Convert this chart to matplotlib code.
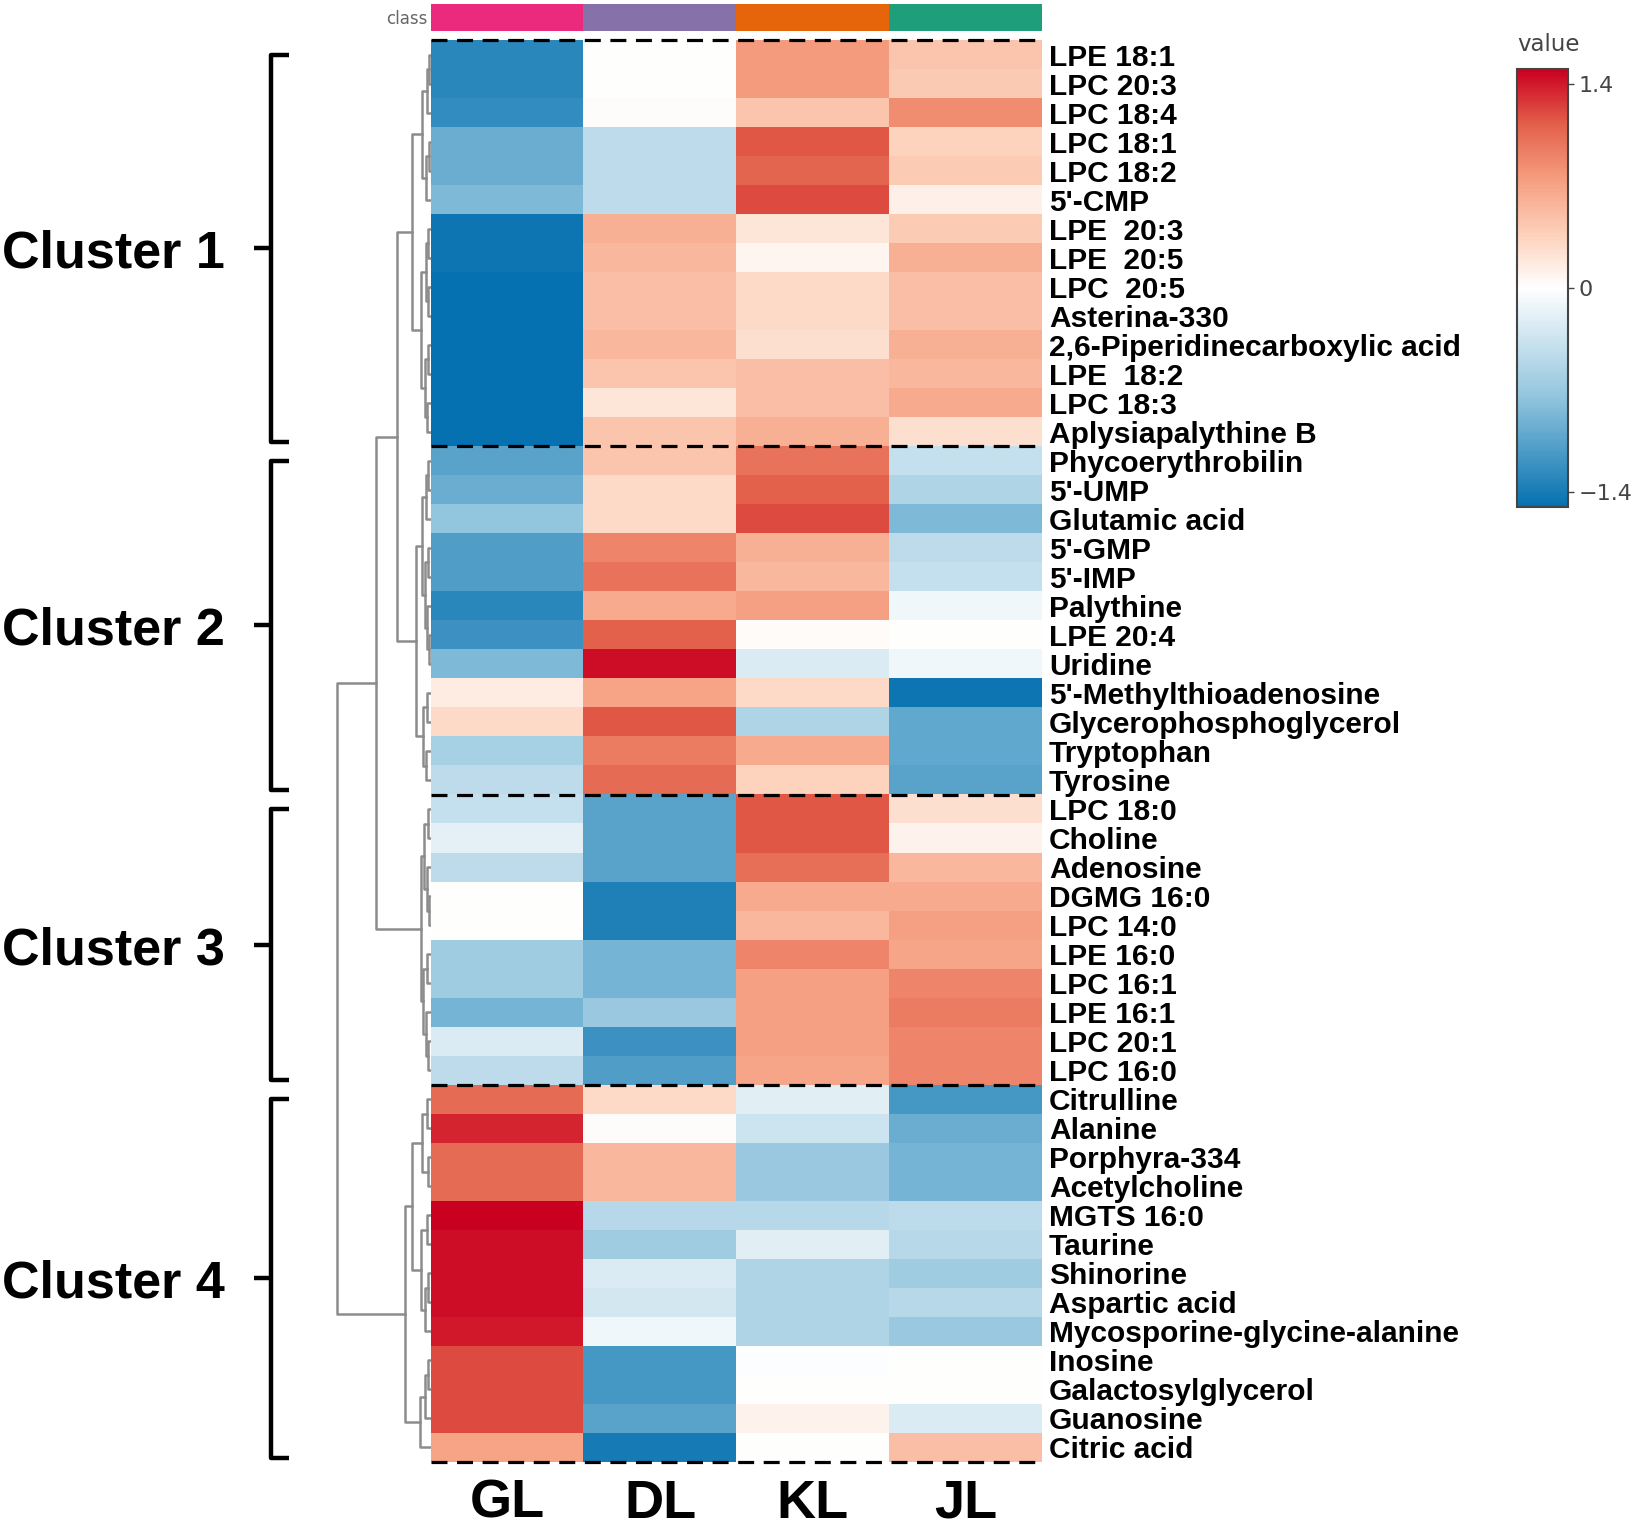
import numpy as np
import matplotlib
matplotlib.use('Agg')
import matplotlib.pyplot as plt
from matplotlib.colors import LinearSegmentedColormap, ListedColormap, Normalize
from matplotlib.cm import ScalarMappable

plt.rcParams['font.family'] = ['Liberation Sans', 'DejaVu Sans']

# samples across the top, with their class colours
samples = ['GL', 'DL', 'KL', 'JL']
class_colors = ['#EB2A7E', '#8672A8', '#E6650B', '#1E9E7A']

# rows in the clustered order
metabolites = [
    'LPE 18:1', 'LPC 20:3', 'LPC 18:4', 'LPC 18:1', 'LPC 18:2', "5'-CMP",
    'LPE  20:3', 'LPE  20:5', 'LPC  20:5', 'Asterina-330',
    '2,6-Piperidinecarboxylic acid', 'LPE  18:2', 'LPC 18:3', 'Aplysiapalythine B',
    'Phycoerythrobilin', "5'-UMP", 'Glutamic acid', "5'-GMP", "5'-IMP", 'Palythine',
    'LPE 20:4', 'Uridine', "5'-Methylthioadenosine", 'Glycerophosphoglycerol',
    'Tryptophan', 'Tyrosine',
    'LPC 18:0', 'Choline', 'Adenosine', 'DGMG 16:0', 'LPC 14:0', 'LPE 16:0',
    'LPC 16:1', 'LPE 16:1', 'LPC 20:1', 'LPC 16:0',
    'Citrulline', 'Alanine', 'Porphyra-334', 'Acetylcholine', 'MGTS 16:0', 'Taurine',
    'Shinorine', 'Aspartic acid', 'Mycosporine-glycine-alanine', 'Inosine',
    'Galactosylglycerol', 'Guanosine', 'Citric acid',
]

# scaled values per sample
gl = [-1.3, -1.3, -1.25, -0.95, -0.95, -0.85, -1.45, -1.45, -1.5, -1.5, -1.5, -1.5, -1.5, -1.5,
      -1.05, -0.95, -0.75, -1.1, -1.1, -1.3, -1.2, -0.85, 0.15, 0.3, -0.6, -0.45,
      -0.4, -0.18, -0.45, 0.0, 0.0, -0.65, -0.65, -0.9, -0.25, -0.45,
      1.05, 1.35, 1.05, 1.05, 1.5, 1.45, 1.45, 1.45, 1.4, 1.2, 1.2, 1.2, 0.7]
dl = [0.0, 0.0, 0.02, -0.45, -0.45, -0.45, 0.6, 0.55, 0.5, 0.5, 0.55, 0.45, 0.2, 0.45,
      0.45, 0.3, 0.3, 0.9, 1.0, 0.65, 1.12, 1.45, 0.7, 1.15, 0.95, 1.05,
      -1.05, -1.05, -1.05, -1.35, -1.35, -0.9, -0.9, -0.7, -1.2, -1.1,
      0.3, 0.02, 0.55, 0.55, -0.5, -0.65, -0.25, -0.3, -0.1, -1.15, -1.15, -1.05, -1.4]
kl = [0.75, 0.75, 0.45, 1.15, 1.08, 1.2, 0.2, 0.08, 0.3, 0.3, 0.25, 0.5, 0.5, 0.6,
      1.0, 1.12, 1.2, 0.6, 0.55, 0.72, 0.03, -0.25, 0.3, -0.55, 0.65, 0.35,
      1.15, 1.15, 1.02, 0.65, 0.55, 0.9, 0.72, 0.72, 0.72, 0.68,
      -0.2, -0.35, -0.7, -0.7, -0.5, -0.2, -0.55, -0.55, -0.55, -0.02, 0.0, 0.1, 0.0]
jl = [0.45, 0.42, 0.85, 0.35, 0.4, 0.12, 0.4, 0.6, 0.5, 0.5, 0.6, 0.55, 0.65, 0.25,
      -0.4, -0.55, -0.85, -0.45, -0.4, -0.1, 0.0, -0.1, -1.45, -1.0, -1.0, -1.05,
      0.25, 0.1, 0.55, 0.65, 0.72, 0.68, 0.9, 0.95, 0.9, 0.9,
      -1.15, -0.95, -0.9, -0.9, -0.45, -0.5, -0.65, -0.5, -0.7, 0.0, 0.0, -0.25, 0.5]

cluster_names = ['Cluster 1', 'Cluster 2', 'Cluster 3', 'Cluster 4']
cluster_sizes = [14, 12, 10, 13]

# row dendrogram as (height, left, right), leaves are row numbers
c1 = (1.8, (0.9, (0.4, (0.2, 0, 1), 2), (0.5, (0.2, 3, 4), 5)),
      (1.0, (0.5, (0.3, 6, 7), (0.3, 8, 9)), (0.6, (0.3, 10, 11), (0.4, 12, 13))))
c2 = (1.4, (0.9, (0.5, (0.3, 14, 15), 16), (0.6, (0.3, 17, 18), (0.4, 19, (0.2, 20, 21)))),
      (0.8, (0.4, 22, 23), (0.5, 24, 25)))
c3 = (1.0, (0.7, (0.3, 26, 27), (0.4, 28, (0.2, 29, 30))),
      (0.8, (0.4, 31, 32), (0.5, 33, (0.3, 34, 35))))
c4 = (2.5, (1.8, (0.9, (0.4, 36, 37), (0.3, 38, 39)), (1.0, (0.4, 40, 41), (0.6, (0.3, 42, 43), 44))),
      (1.1, (0.6, (0.3, 45, 46), 47), 48))
row_tree = (9.0, (5.3, (3.3, c1, c2), c3), c4)

values = np.column_stack([gl, dl, kl, jl])
n_rows = len(metabolites)
n_cols = len(samples)

# blue - white - red scale, vmin/vmax -1.5/1.5
cmap = LinearSegmentedColormap.from_list('rdbu', [
    (0.0, '#0571B0'), (0.25, '#92C5DE'), (0.5, '#FFFFFF'), (0.62, '#FDD2BC'),
    (0.75, '#F69D7F'), (0.875, '#E3604A'), (1.0, '#CA0020')])
norm = Normalize(vmin=-1.5, vmax=1.5)

W, H = 1637, 1533
fig = plt.figure(figsize=(W / 100, H / 100), dpi=100)

hm_left, hm_right = 431, 1042
hm_top, hm_bot = 40, 1462
hm_pos = [hm_left / W, 1 - hm_bot / H, (hm_right - hm_left) / W, (hm_bot - hm_top) / H]

# main heatmap
ax = fig.add_axes(hm_pos)
ax.imshow(values, cmap=cmap, norm=norm, aspect='auto', interpolation='nearest',
          extent=(0, n_cols, n_rows, 0))
ax.set_xlim(0, n_cols)
ax.set_ylim(n_rows, 0)
for s in ax.spines.values():
    s.set_visible(False)
ax.yaxis.tick_right()
ax.set_yticks(np.arange(n_rows) + 0.5)
ax.set_yticklabels(metabolites, fontsize=21.5, fontweight='bold')
ax.set_xticks(np.arange(n_cols) + 0.5)
ax.set_xticklabels(samples, fontsize=39, fontweight='bold')
ax.tick_params(axis='y', length=0, pad=5)
ax.tick_params(axis='x', length=0, pad=12)

# dashed cluster separators
bounds = np.cumsum([0] + cluster_sizes)
for b in bounds:
    ax.plot([0, n_cols], [b, b], color='black', lw=2.3, ls=(0, (5, 3)),
            clip_on=False, solid_capstyle='butt')

# class colour bar
ax_cls = fig.add_axes([hm_left / W, 1 - 31 / H, (hm_right - hm_left) / W, 27 / H])
ax_cls.imshow([np.arange(n_cols)], cmap=ListedColormap(class_colors), aspect='auto',
              extent=(0, n_cols, 1, 0))
ax_cls.set_axis_off()
ax_cls.text(-0.006, 0.45, 'class', transform=ax_cls.transAxes, ha='right', va='center',
            fontsize=12, color='#666666', family='DejaVu Sans')

# row dendrogram
ax_den = fig.add_axes([330 / W, hm_pos[1], 101 / W, hm_pos[3]])


def draw_tree(a, node):
    if isinstance(node, int):
        return node + 0.5, 0.0
    h, left, right = node
    ya, ha = draw_tree(a, left)
    yb, hb = draw_tree(a, right)
    a.plot([ha, h, h, hb], [ya, ya, yb, yb], color='#8c8c8c', lw=1.8)
    return (ya + yb) / 2, h


draw_tree(ax_den, row_tree)
ax_den.set_xlim(9.0 * 101 / 94, 0)
ax_den.set_ylim(n_rows, 0)
ax_den.set_axis_off()

# cluster brackets and names
ax_br = fig.add_axes([0, hm_pos[1], hm_left / W, hm_pos[3]])
ax_br.set_xlim(0, hm_left)
ax_br.set_ylim(n_rows, 0)
ax_br.set_axis_off()
for name, start, end in zip(cluster_names, bounds[:-1], bounds[1:]):
    top = start + 0.5
    bot = end - 0.15
    mid = (top + bot) / 2
    ax_br.plot([289, 271, 271, 289], [top, top, bot, bot], color='black', lw=3.2,
               solid_joinstyle='round', solid_capstyle='butt')
    ax_br.plot([254, 271], [mid, mid], color='black', lw=3.2, solid_capstyle='butt')
    ax_br.text(2, mid + 0.2, name, fontsize=37.5, fontweight='bold', ha='left', va='center')

# colour scale
cax = fig.add_axes([1517 / W, 1 - 507 / H, 51 / W, 438 / H])
cb = fig.colorbar(ScalarMappable(norm=norm, cmap=cmap), cax=cax, ticks=[-1.4, 0, 1.4])
cb.ax.set_yticklabels(['\u22121.4', '0', '1.4'])
cb.outline.set_edgecolor('#444444')
cb.outline.set_linewidth(1.5)
cax.tick_params(labelsize=16, colors='#444444', length=4, width=1)
for t in cax.get_yticklabels():
    t.set_family('DejaVu Sans')
cax.set_title('value', loc='left', fontsize=16.5, color='#444444', pad=13, family='DejaVu Sans')

fig.savefig('out.png', dpi=100)
